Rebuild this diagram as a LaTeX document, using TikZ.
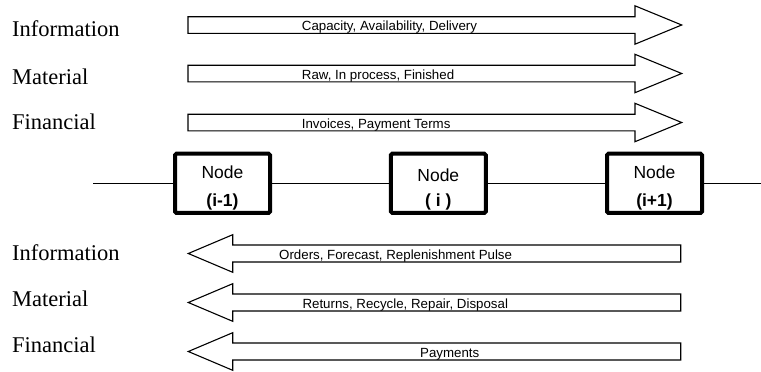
\documentclass[tikz,border=0pt]{standalone}
\usepackage{fontspec}
\setmainfont{Liberation Serif}
\setsansfont{Liberation Sans}

% right-pointing block arrow: #1 = name, #2 = centre line y
\newcommand\rightflow[2]{%
  \draw[blockarrow] (188,#2-8.3) -- (635,#2-8.3) -- (635,#2-19.2)
    -- (681.7,#2) -- (635,#2+19.2) -- (635,#2+8.3) -- (188,#2+8.3) -- cycle;
  \coordinate (#1) at (188,#2);}
% left-pointing block arrow
\newcommand\leftflow[2]{%
  \draw[blockarrow] (680.7,#2-8.5) -- (232.7,#2-8.5) -- (232.7,#2-18.8)
    -- (188.3,#2) -- (232.7,#2+18.8) -- (232.7,#2+8.5) -- (680.7,#2+8.5) -- cycle;
  \coordinate (#1) at (188.3,#2);}

\begin{document}
\begin{tikzpicture}[x=1pt,y=-1pt,
  flowlabel/.style={font=\fontsize{22.5}{27}\selectfont, anchor=base west, inner sep=0pt},
  flowtext/.style={font=\sffamily\fontsize{13.3}{15}\selectfont, anchor=base west, inner sep=0pt},
  blockarrow/.style={draw, line width=1.1pt, fill=white, line join=miter},
  nodebox/.style={draw, line width=4pt, rounded corners=1.5pt, fill=white,
    minimum width=95pt, minimum height=59.3pt, inner sep=0pt},
  nodetext/.style={font=\sffamily\fontsize{17.5}{20}\selectfont, anchor=base, inner sep=0pt},
  nodeindex/.style={nodetext, font=\sffamily\bfseries\fontsize{17.5}{20}\selectfont},
  link/.style={line width=1.2pt}]
\useasboundingbox (0,0) rectangle (761,372);

% flows towards the downstream node
\rightflow{fi}{25}
\rightflow{fm}{73.5}
\rightflow{ff}{122.5}
\node[flowtext] (ti) at (301.7,30.5) {Capacity, Availability, Delivery};
\node[flowtext] (tm) at (301.7,79) {Raw, In process, Finished};
\node[flowtext] (tf) at (301.7,128) {Invoices, Payment Terms};

\node[flowlabel] (li) at (12,36.5) {Information};
\node[flowlabel] (lm) at (12,84.5) {Material};
\node[flowlabel] (lf) at (12,129.5) {Financial};

% the chain of nodes
\coordinate (cin) at (93,183.3);
\coordinate (cout) at (761,183.3);
\node[nodebox] (n1) at (222.5,183.3) {};
\node[nodebox] (n2) at (438.3,183.3) {};
\node[nodebox] (n3) at (654.5,183.3) {};
\draw[link] (cin) -- (n1);
\draw[link] (n1) -- (n2);
\draw[link] (n2) -- (n3);
\draw[link] (n3) -- (cout);

\node[nodetext] (n1a) at ([yshift=4.5pt]n1.center) {Node};
\node[nodeindex] (n1b) at ([yshift=-23.5pt]n1.center) {(i-1)};
\node[nodetext] (n2a) at ([yshift=1.5pt]n2.center) {Node};
\node[nodeindex] (n2b) at ([yshift=-23.5pt]n2.center) {( i )};
\node[nodetext] (n3a) at ([yshift=4.5pt]n3.center) {Node};
\node[nodeindex] (n3b) at ([yshift=-23.5pt]n3.center) {(i+1)};

% flows towards the upstream node
\leftflow{bi}{253.5}
\leftflow{bm}{302.5}
\leftflow{bf}{351.5}
\node[flowtext] (ui) at (279,259) {Orders, Forecast, Replenishment Pulse};
\node[flowtext] (um) at (302.3,308) {Returns, Recycle, Repair, Disposal};
\node[flowtext] (uf) at (420,357) {Payments};

\node[flowlabel] (ki) at (12,260) {Information};
\node[flowlabel] (km) at (12,306.7) {Material};
\node[flowlabel] (kf) at (12,352.7) {Financial};
\end{tikzpicture}
\end{document}
